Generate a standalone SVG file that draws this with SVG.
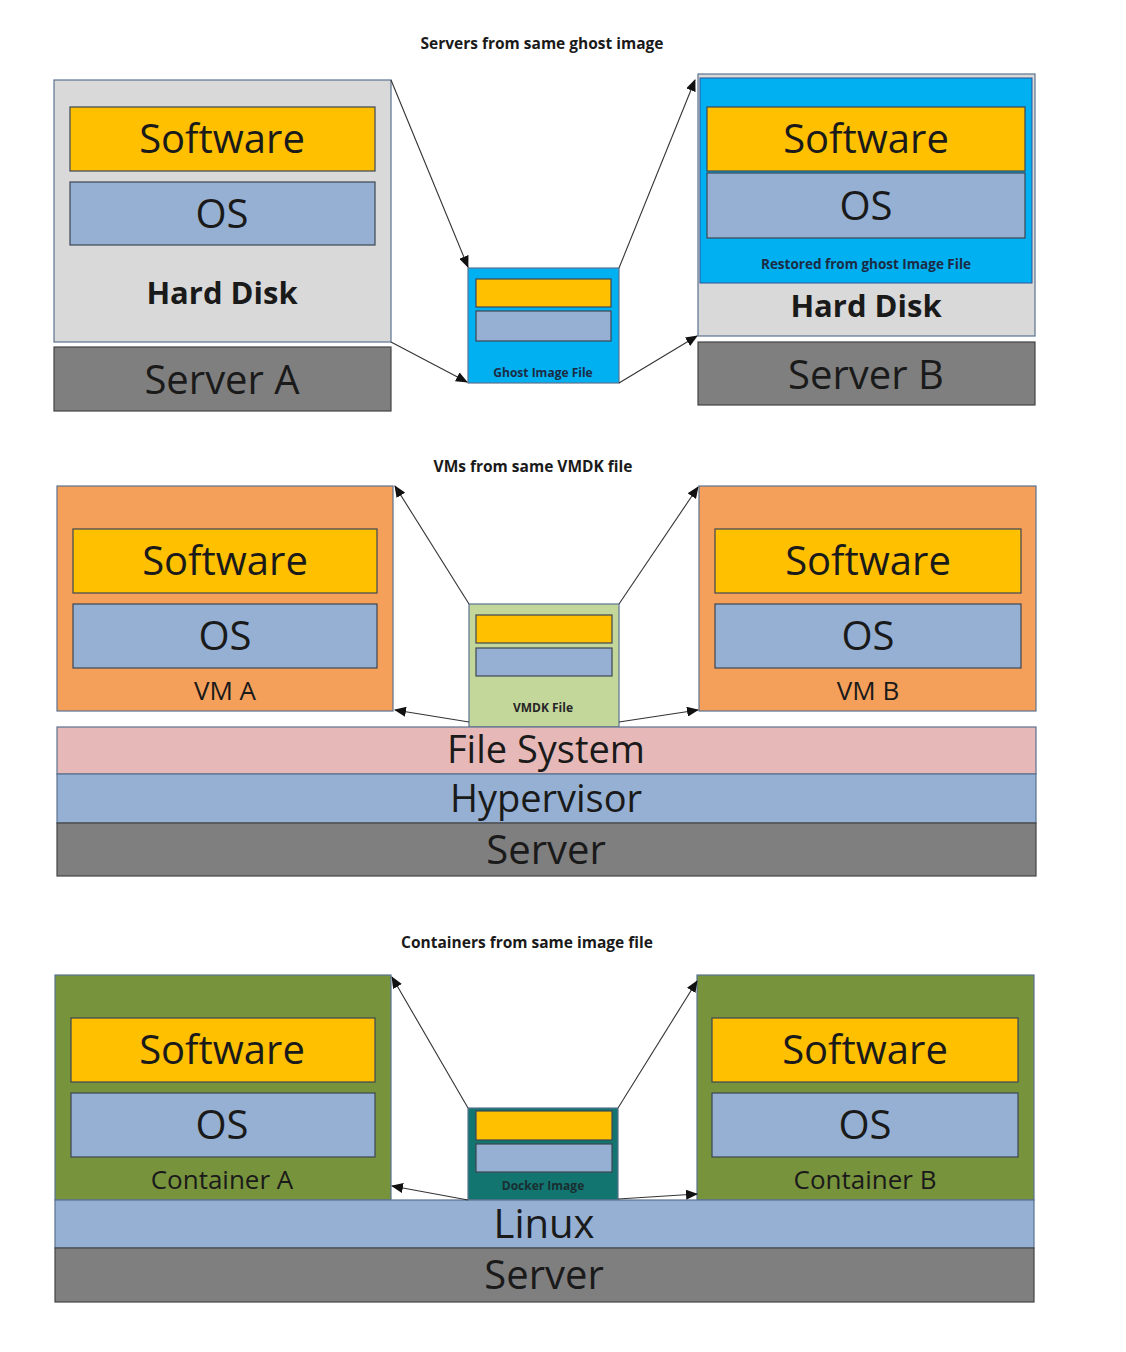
<svg xmlns="http://www.w3.org/2000/svg" width="1126" height="1352" viewBox="0 0 1126 1352">
<defs>
<marker id="ah" markerWidth="12" markerHeight="10" refX="11" refY="5" orient="auto" markerUnits="userSpaceOnUse">
<path d="M0,0 L12,5 L0,10 Z" fill="#111"/>
</marker>
<style>
text{font-family:"Open Sans","Liberation Sans",sans-serif;text-anchor:middle;fill:#1a1a1a}
.frame{stroke:#5b7290;stroke-width:1.2}
.sw{fill:#ffc000;stroke:#3d4654;stroke-width:1.2}
.os{fill:#95b0d3;stroke:#3d4654;stroke-width:1.2}
.disk{fill:#d9d9d9}
.srv{fill:#7f7f7f;stroke:#444;stroke-width:1.2}
.cyan{fill:#00b0f0}
.vm{fill:#f5a05a}
.ct{fill:#77933c}
.big{font-size:40px}
.band{font-size:38px}
.mid{font-size:26px}
.title{font-size:15.5px;font-weight:bold}
.small{font-size:12px;font-weight:bold;fill:#1c2b45}
.conn{stroke:#333;stroke-width:1.1;fill:none;marker-end:url(#ah)}
</style>
</defs>
<rect width="1126" height="1352" fill="#fff"/>

<!-- Section 1 -->
<text class="title" x="542" y="49">Servers from same ghost image</text>
<g id="serverA-disk">
<rect class="disk frame" x="54" y="80" width="337" height="262"/>
<rect class="sw" x="70" y="107" width="305" height="64"/>
<text class="big" x="222" y="153">Software</text>
<rect class="os" x="70" y="182" width="305" height="63"/>
<text class="big" x="222" y="228">OS</text>
<text x="222" y="304" style="font-size:31px;font-weight:bold">Hard Disk</text>
</g>
<g id="serverA">
<rect class="srv" x="54" y="347" width="337" height="64"/>
<text class="big" x="222" y="394">Server A</text>
</g>
<g id="ghost">
<rect class="cyan frame" x="468" y="268" width="151" height="115"/>
<rect class="sw" x="476" y="279" width="135" height="28"/>
<rect class="os" x="476" y="311" width="135" height="30"/>
<text class="small" x="543" y="377">Ghost Image File</text>
</g>
<g id="serverB-disk">
<rect class="disk frame" x="698" y="74" width="337" height="262"/>
<rect class="cyan" x="700" y="78" width="332" height="205" stroke="#2f5597" stroke-width="1"/>
<rect class="sw" x="707" y="107" width="318" height="64"/>
<text class="big" x="866" y="153">Software</text>
<rect class="os" x="707" y="173" width="318" height="65"/>
<text class="big" x="866" y="220">OS</text>
<text class="small" x="866" y="269" style="font-size:13.5px">Restored from ghost Image File</text>
<text x="866" y="317" style="font-size:31px;font-weight:bold">Hard Disk</text>
</g>
<g id="serverB">
<rect class="srv" x="698" y="342" width="337" height="63"/>
<text class="big" x="866" y="389">Server B</text>
</g>

<!-- Section 2 -->
<text class="title" x="533" y="472">VMs from same VMDK file</text>
<g id="vmA">
<rect class="vm frame" x="57" y="486" width="336" height="225"/>
<rect class="sw" x="73" y="529" width="304" height="64"/>
<text class="big" x="225" y="575">Software</text>
<rect class="os" x="73" y="604" width="304" height="64"/>
<text class="big" x="225" y="650">OS</text>
<text class="mid" x="225" y="700">VM A</text>
</g>
<g id="vmB">
<rect class="vm frame" x="699" y="486" width="337" height="225"/>
<rect class="sw" x="715" y="529" width="306" height="64"/>
<text class="big" x="868" y="575">Software</text>
<rect class="os" x="715" y="604" width="306" height="64"/>
<text class="big" x="868" y="650">OS</text>
<text class="mid" x="868" y="700">VM B</text>
</g>
<g id="vmdk">
<rect x="469" y="604" width="150" height="123" fill="#c4d79b" class="frame"/>
<rect class="sw" x="476" y="615" width="136" height="28"/>
<rect class="os" x="476" y="648" width="136" height="28"/>
<text class="small" x="543" y="712" style="fill:#262626">VMDK File</text>
</g>
<g id="filesystem">
<rect x="57" y="727" width="979" height="47" fill="#e6b9b8" class="frame"/>
<text class="band" x="546" y="763">File System</text>
</g>
<g id="hypervisor">
<rect x="57" y="774" width="979" height="49" fill="#95b0d3" class="frame"/>
<text class="band" x="546" y="812">Hypervisor</text>
</g>
<g id="server-vm">
<rect class="srv" x="57" y="823" width="979" height="53"/>
<text class="big" x="546" y="864">Server</text>
</g>

<!-- Section 3 -->
<text class="title" x="527" y="948">Containers from same image file</text>
<g id="containerA">
<rect class="ct frame" x="55" y="975" width="336" height="225"/>
<rect class="sw" x="71" y="1018" width="304" height="64"/>
<text class="big" x="222" y="1064">Software</text>
<rect class="os" x="71" y="1093" width="304" height="64"/>
<text class="big" x="222" y="1139">OS</text>
<text class="mid" x="222" y="1189">Container A</text>
</g>
<g id="containerB">
<rect class="ct frame" x="697" y="975" width="337" height="225"/>
<rect class="sw" x="712" y="1018" width="306" height="64"/>
<text class="big" x="865" y="1064">Software</text>
<rect class="os" x="712" y="1093" width="306" height="64"/>
<text class="big" x="865" y="1139">OS</text>
<text class="mid" x="865" y="1189">Container B</text>
</g>
<g id="docker">
<rect x="468" y="1108" width="150" height="92" fill="#127570" class="frame"/>
<rect class="sw" x="476" y="1111" width="136" height="29"/>
<rect class="os" x="476" y="1144" width="136" height="28"/>
<text class="small" x="543" y="1190" style="fill:#1a2e30">Docker Image</text>
</g>
<g id="linux">
<rect x="55" y="1200" width="979" height="48" fill="#95b0d3" class="frame"/>
<text class="big" x="544" y="1238">Linux</text>
</g>
<g id="server-ct">
<rect class="srv" x="55" y="1248" width="979" height="54"/>
<text class="big" x="544" y="1289">Server</text>
</g>

<g id="connectors">
<line class="conn" x1="391" y1="80" x2="468" y2="267"/>
<line class="conn" x1="391" y1="342" x2="467" y2="382"/>
<line class="conn" x1="619" y1="268" x2="695" y2="80"/>
<line class="conn" x1="619" y1="383" x2="697" y2="336"/>
<line class="conn" x1="469" y1="604" x2="395" y2="486"/>
<line class="conn" x1="619" y1="604" x2="698" y2="487"/>
<line class="conn" x1="469" y1="722" x2="395" y2="710"/>
<line class="conn" x1="619" y1="722" x2="698" y2="710"/>
<line class="conn" x1="468" y1="1108" x2="392" y2="977"/>
<line class="conn" x1="618" y1="1108" x2="697" y2="981"/>
<line class="conn" x1="468" y1="1200" x2="392" y2="1186"/>
<line class="conn" x1="618" y1="1199" x2="697" y2="1194"/>
</g>
</svg>
